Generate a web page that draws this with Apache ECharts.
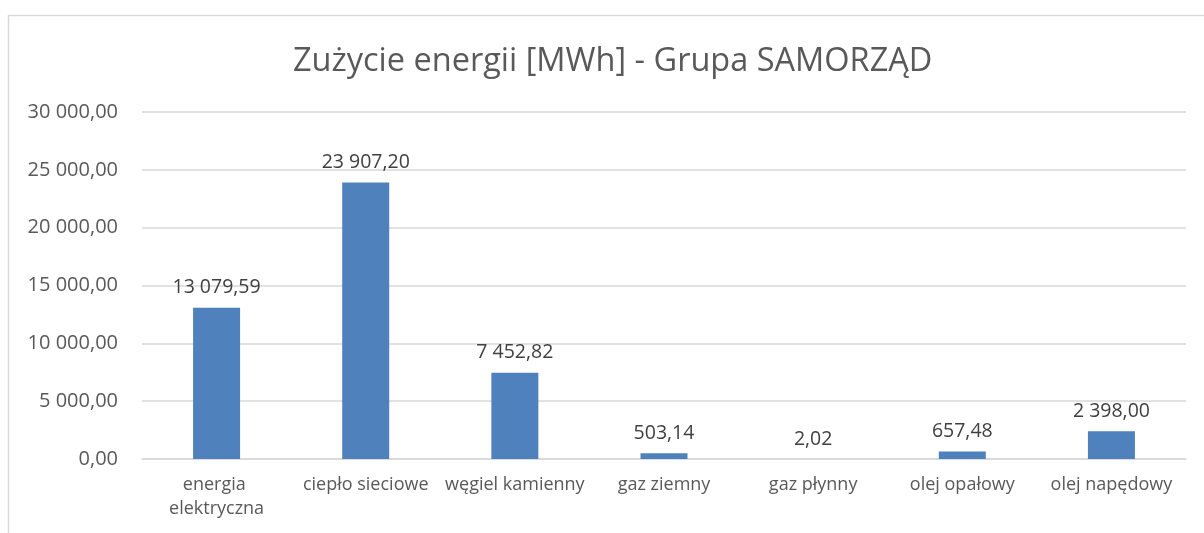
<!DOCTYPE html>
<html>
<head>
<meta charset="utf-8">
<script src="https://cdn.jsdelivr.net/npm/echarts@6/dist/echarts.min.js"></script>
<style>
html, body { margin: 0; padding: 0; background: #fff; }
#chart { width: 1204px; height: 533px; }
</style>
</head>
<body>
<div id="chart"></div>
<script>
var categories = ['energia elektryczna', 'ciepło sieciowe', 'węgiel kamienny', 'gaz ziemny', 'gaz płynny', 'olej opałowy', 'olej napędowy'];
var values = [13079.59, 23907.20, 7452.82, 503.14, 2.02, 657.48, 2398.00];
var titleText = 'Zużycie energii [MWh] - Grupa SAMORZĄD';

function plFormat(v) {
	var parts = v.toFixed(2).split('.');
	var intPart = parts[0].replace(/\B(?=(\d{3})+(?!\d))/g, ' ');
	return intPart + ',' + parts[1];
}

var font = 'Open Sans, Liberation Sans, sans-serif';
var chart = echarts.init(document.getElementById('chart'));
chart.setOption({
	animation: false,
	textStyle: { fontFamily: font },
	graphic: [{
		type: 'rect',
		left: 6, top: 13,
		shape: { width: 1220, height: 560 },
		style: { fill: 'none', stroke: '#d9d9d9', lineWidth: 1.5 },
		silent: true
	}],
	title: {
		text: titleText,
		left: 288,
		top: 40,
		textStyle: { fontSize: 32.5, fontWeight: 'normal', color: '#595959', fontFamily: font }
	},
	grid: { left: 142, right: 18, top: 112, bottom: 74 },
	xAxis: {
		type: 'category',
		data: categories,
		axisLine: { lineStyle: { color: '#d9d9d9', width: 1.5 } },
		axisTick: { show: false },
		axisLabel: {
			interval: 0,
			color: '#595959',
			fontSize: 18,
			margin: 14,
			width: 160,
			overflow: 'break',
			lineHeight: 24
		}
	},
	yAxis: {
		type: 'value',
		min: 0,
		max: 30000,
		interval: 5000,
		axisLine: { show: false },
		axisTick: { show: false },
		splitLine: { lineStyle: { color: '#d9d9d9', width: 1.5 } },
		axisLabel: {
			color: '#595959',
			fontSize: 20,
			margin: 24,
			formatter: function (v) { return plFormat(v); }
		}
	},
	series: [{
		type: 'bar',
		data: values,
		barWidth: 47,
		itemStyle: { color: '#4f81bd' },
		label: {
			show: true,
			position: 'top',
			distance: 10,
			fontSize: 19.5,
			color: '#404040',
			formatter: function (p) { return plFormat(p.value); }
		}
	}]
});
</script>
</body>
</html>
